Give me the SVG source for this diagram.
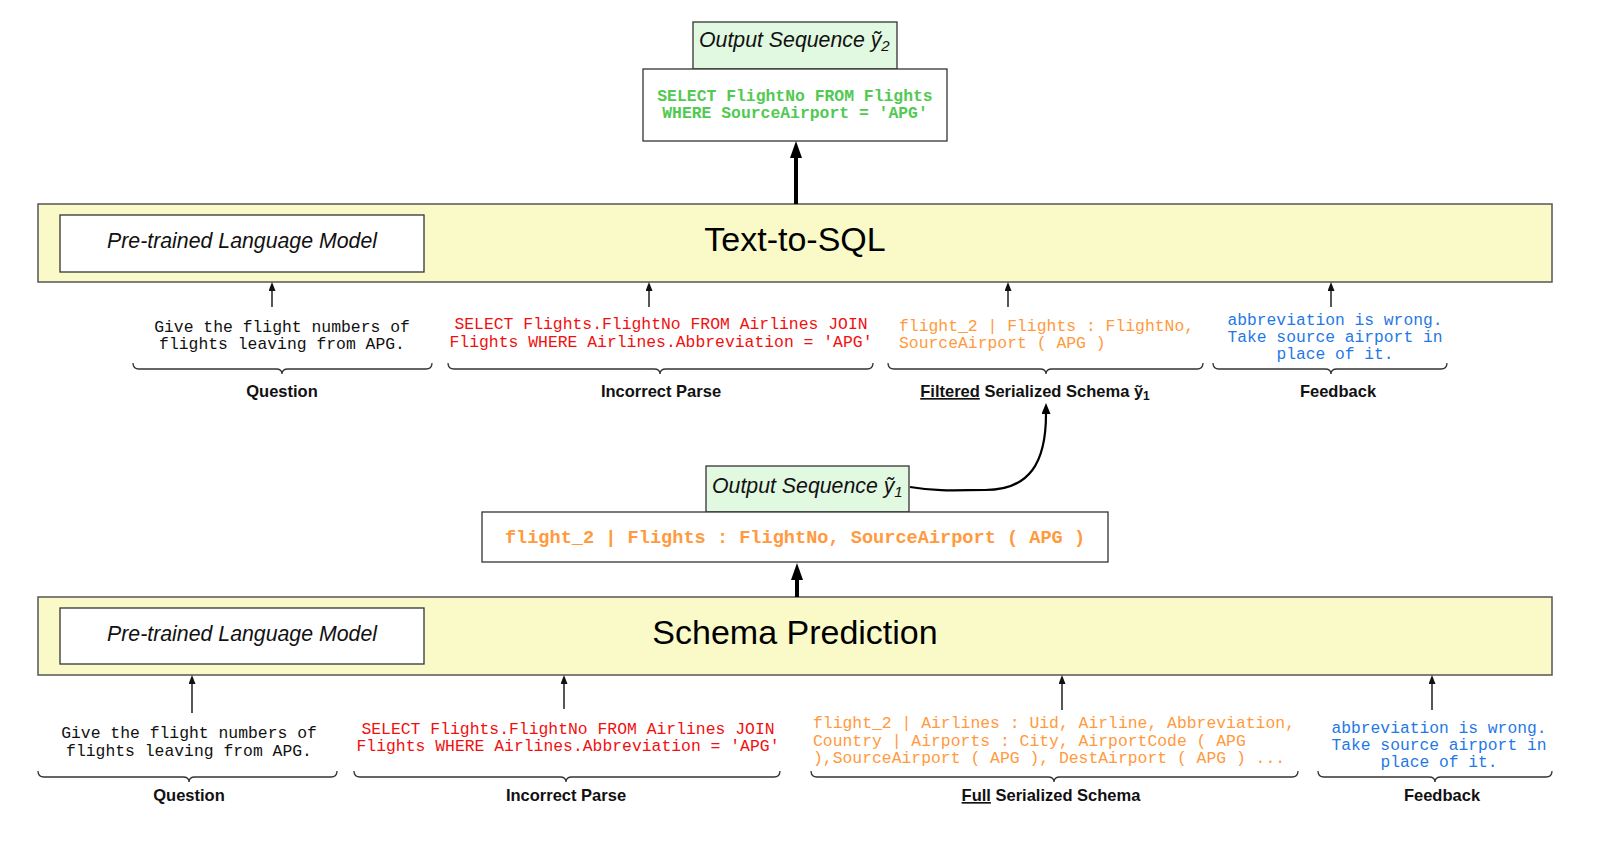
<svg xmlns="http://www.w3.org/2000/svg" width="1619" height="842" viewBox="0 0 1619 842">
<style>
.band{fill:#fafac8;stroke:#555;stroke-width:1.5}
.box{fill:#fff;stroke:#333;stroke-width:1.3}
.gbox{fill:#e1f8e1;stroke:#333;stroke-width:1.3}
.plm{font-family:"Liberation Sans",Arial,sans-serif;font-style:italic;font-size:21.3px;fill:#111}
.title{font-family:"Liberation Sans",Arial,sans-serif;font-size:34px;fill:#000;text-anchor:middle}
.mono{font-family:"Liberation Mono","Courier New",monospace;font-size:16.4px}
.mono.sm{font-size:16.3px}
.mono.big{font-size:18.6px;font-weight:bold}
.green{fill:#52c952;font-weight:bold;text-anchor:middle}
.lbl{font-family:"Liberation Sans",Arial,sans-serif;font-weight:bold;font-size:16.5px;fill:#111;text-anchor:middle}
.q{fill:#111;text-anchor:middle}
.red{fill:#f01010;text-anchor:middle}
.org{fill:#ff9a40}
.blu{fill:#1f78e6;text-anchor:middle}
.brace{fill:none;stroke:#333;stroke-width:1.3}
.thin{stroke:#111;stroke-width:1.4;fill:none}
.thick{stroke:#000;stroke-width:4;fill:none}
</style>
<defs>
<marker id="ah" viewBox="0 0 9 7" refX="0" refY="3.5" markerWidth="9" markerHeight="7" markerUnits="userSpaceOnUse" orient="auto"><path d="M0,0 L9,3.5 L0,7 z" fill="#111"/></marker>
<marker id="ahb" viewBox="0 0 17 12" refX="0" refY="6" markerWidth="17" markerHeight="12" markerUnits="userSpaceOnUse" orient="auto"><path d="M0,0 L17,6 L0,12 z" fill="#000"/></marker>
<marker id="ahc" viewBox="0 0 11 9" refX="0" refY="4.5" markerWidth="11" markerHeight="9" markerUnits="userSpaceOnUse" orient="auto"><path d="M0,0 L11,4.5 L0,9 z" fill="#000"/></marker>
</defs>

<g id="textsql">
<rect class="band" x="38" y="204" width="1514" height="78"/>
<text class="title" x="795" y="251">Text-to-SQL</text>
</g>
<g id="plm-top">
<rect class="box" x="60" y="215" width="364" height="57"/>
<text class="plm" x="242" y="248" text-anchor="middle">Pre-trained Language Model</text>
</g>
<g id="out2">
<rect class="gbox" x="693" y="22" width="204" height="47"/>
<text class="plm" x="699" y="47">Output Sequence ỹ<tspan font-size="15" dy="4">2</tspan></text>
</g>
<g id="sql-out">
<rect class="box" x="643" y="69" width="304" height="72"/>
<text class="mono green" x="795" y="101">SELECT FlightNo FROM Flights</text>
<text class="mono green" x="795" y="118">WHERE SourceAirport = 'APG'</text>
</g>

<g id="top-question">
<text class="mono q" x="282" y="332">Give the flight numbers of</text>
<text class="mono q" x="282" y="349">flights leaving from APG.</text>
<text class="lbl" x="282" y="397">Question</text>
</g>
<g id="top-parse">
<text class="mono red" x="661" y="329">SELECT Flights.FlightNo FROM Airlines JOIN</text>
<text class="mono red" x="661" y="347">Flights WHERE Airlines.Abbreviation = 'APG'</text>
<text class="lbl" x="661" y="397">Incorrect Parse</text>
</g>
<g id="top-schema">
<text class="mono org" x="899" y="331">flight_2 | Flights : FlightNo,</text>
<text class="mono org" x="899" y="348">SourceAirport ( APG )</text>
<text class="lbl" x="1035" y="397"><tspan text-decoration="underline">Filtered</tspan> Serialized Schema ỹ<tspan font-size="12" dy="3">1</tspan></text>
</g>
<g id="top-feedback">
<text class="mono sm blu" x="1335" y="325">abbreviation is wrong.</text>
<text class="mono sm blu" x="1335" y="342">Take source airport in</text>
<text class="mono sm blu" x="1335" y="359">place of it.</text>
<text class="lbl" x="1338" y="397">Feedback</text>
</g>

<g id="out1">
<rect class="gbox" x="706" y="466" width="203" height="46"/>
<text class="plm" x="712" y="493">Output Sequence ỹ<tspan font-size="15" dy="4">1</tspan></text>
</g>
<g id="schema-out">
<rect class="box" x="482" y="512" width="626" height="50"/>
<text class="mono big org" x="795" y="543" text-anchor="middle">flight_2 | Flights : FlightNo, SourceAirport ( APG )</text>
</g>

<g id="schemapred">
<rect class="band" x="38" y="597" width="1514" height="78"/>
<text class="title" x="795" y="644">Schema Prediction</text>
</g>
<g id="plm-bottom">
<rect class="box" x="60" y="608" width="364" height="56"/>
<text class="plm" x="242" y="641" text-anchor="middle">Pre-trained Language Model</text>
</g>

<g id="bot-question">
<text class="mono q" x="189" y="738">Give the flight numbers of</text>
<text class="mono q" x="189" y="756">flights leaving from APG.</text>
<text class="lbl" x="189" y="801">Question</text>
</g>
<g id="bot-parse">
<text class="mono red" x="568" y="734">SELECT Flights.FlightNo FROM Airlines JOIN</text>
<text class="mono red" x="568" y="751">Flights WHERE Airlines.Abbreviation = 'APG'</text>
<text class="lbl" x="566" y="801">Incorrect Parse</text>
</g>
<g id="bot-schema">
<text class="mono org" x="813" y="728">flight_2 | Airlines : Uid, Airline, Abbreviation,</text>
<text class="mono org" x="813" y="746">Country | Airports : City, AirportCode ( APG</text>
<text class="mono org" x="813" y="763">),SourceAirport ( APG ), DestAirport ( APG ) ...</text>
<text class="lbl" x="1051" y="801"><tspan text-decoration="underline">Full</tspan> Serialized Schema</text>
</g>
<g id="bot-feedback">
<text class="mono sm blu" x="1439" y="733">abbreviation is wrong.</text>
<text class="mono sm blu" x="1439" y="750">Take source airport in</text>
<text class="mono sm blu" x="1439" y="767">place of it.</text>
<text class="lbl" x="1442" y="801">Feedback</text>
</g>

<g id="braces">
<path class="brace" d="M133,363 Q133,369 139,369 L276,369 Q282,369 282,374 Q282,369 288,369 L426,369 Q432,369 432,363"/>
<path class="brace" d="M448,363 Q448,369 454,369 L654,369 Q660,369 660,374 Q660,369 666,369 L867,369 Q873,369 873,363"/>
<path class="brace" d="M888,363 Q888,369 894,369 L1040,369 Q1046,369 1046,374 Q1046,369 1052,369 L1197,369 Q1203,369 1203,363"/>
<path class="brace" d="M1213,363 Q1213,369 1219,369 L1325,369 Q1331,369 1331,374 Q1331,369 1337,369 L1441,369 Q1447,369 1447,363"/>
<path class="brace" d="M38,771 Q38,777 44,777 L183,777 Q189,777 189,782 Q189,777 195,777 L331,777 Q337,777 337,771"/>
<path class="brace" d="M354,771 Q354,777 360,777 L560,777 Q566,777 566,782 Q566,777 572,777 L774,777 Q780,777 780,771"/>
<path class="brace" d="M811,771 Q811,777 817,777 L1048,777 Q1054,777 1054,782 Q1054,777 1060,777 L1292,777 Q1298,777 1298,771"/>
<path class="brace" d="M1318,771 Q1318,777 1324,777 L1429,777 Q1435,777 1435,782 Q1435,777 1441,777 L1546,777 Q1552,777 1552,771"/>
</g>

<g id="connectors">
<line class="thick" x1="796" y1="204" x2="796" y2="158" marker-end="url(#ahb)"/>
<line class="thick" x1="797" y1="597" x2="797" y2="580" marker-end="url(#ahb)"/>
<line class="thin" x1="272" y1="307" x2="272" y2="291" marker-end="url(#ah)"/>
<line class="thin" x1="649" y1="307" x2="649" y2="291" marker-end="url(#ah)"/>
<line class="thin" x1="1008" y1="307" x2="1008" y2="291" marker-end="url(#ah)"/>
<line class="thin" x1="1331" y1="307" x2="1331" y2="291" marker-end="url(#ah)"/>
<line class="thin" x1="192" y1="713" x2="192" y2="684" marker-end="url(#ah)"/>
<line class="thin" x1="564" y1="709" x2="564" y2="684" marker-end="url(#ah)"/>
<line class="thin" x1="1062" y1="710" x2="1062" y2="684" marker-end="url(#ah)"/>
<line class="thin" x1="1432" y1="710" x2="1432" y2="684" marker-end="url(#ah)"/>
<path d="M910,487 C940,492 960,490 985,490 C1030,490 1046,462 1046,414" stroke="#000" stroke-width="2.2" fill="none" marker-end="url(#ahc)"/>
</g>
</svg>
